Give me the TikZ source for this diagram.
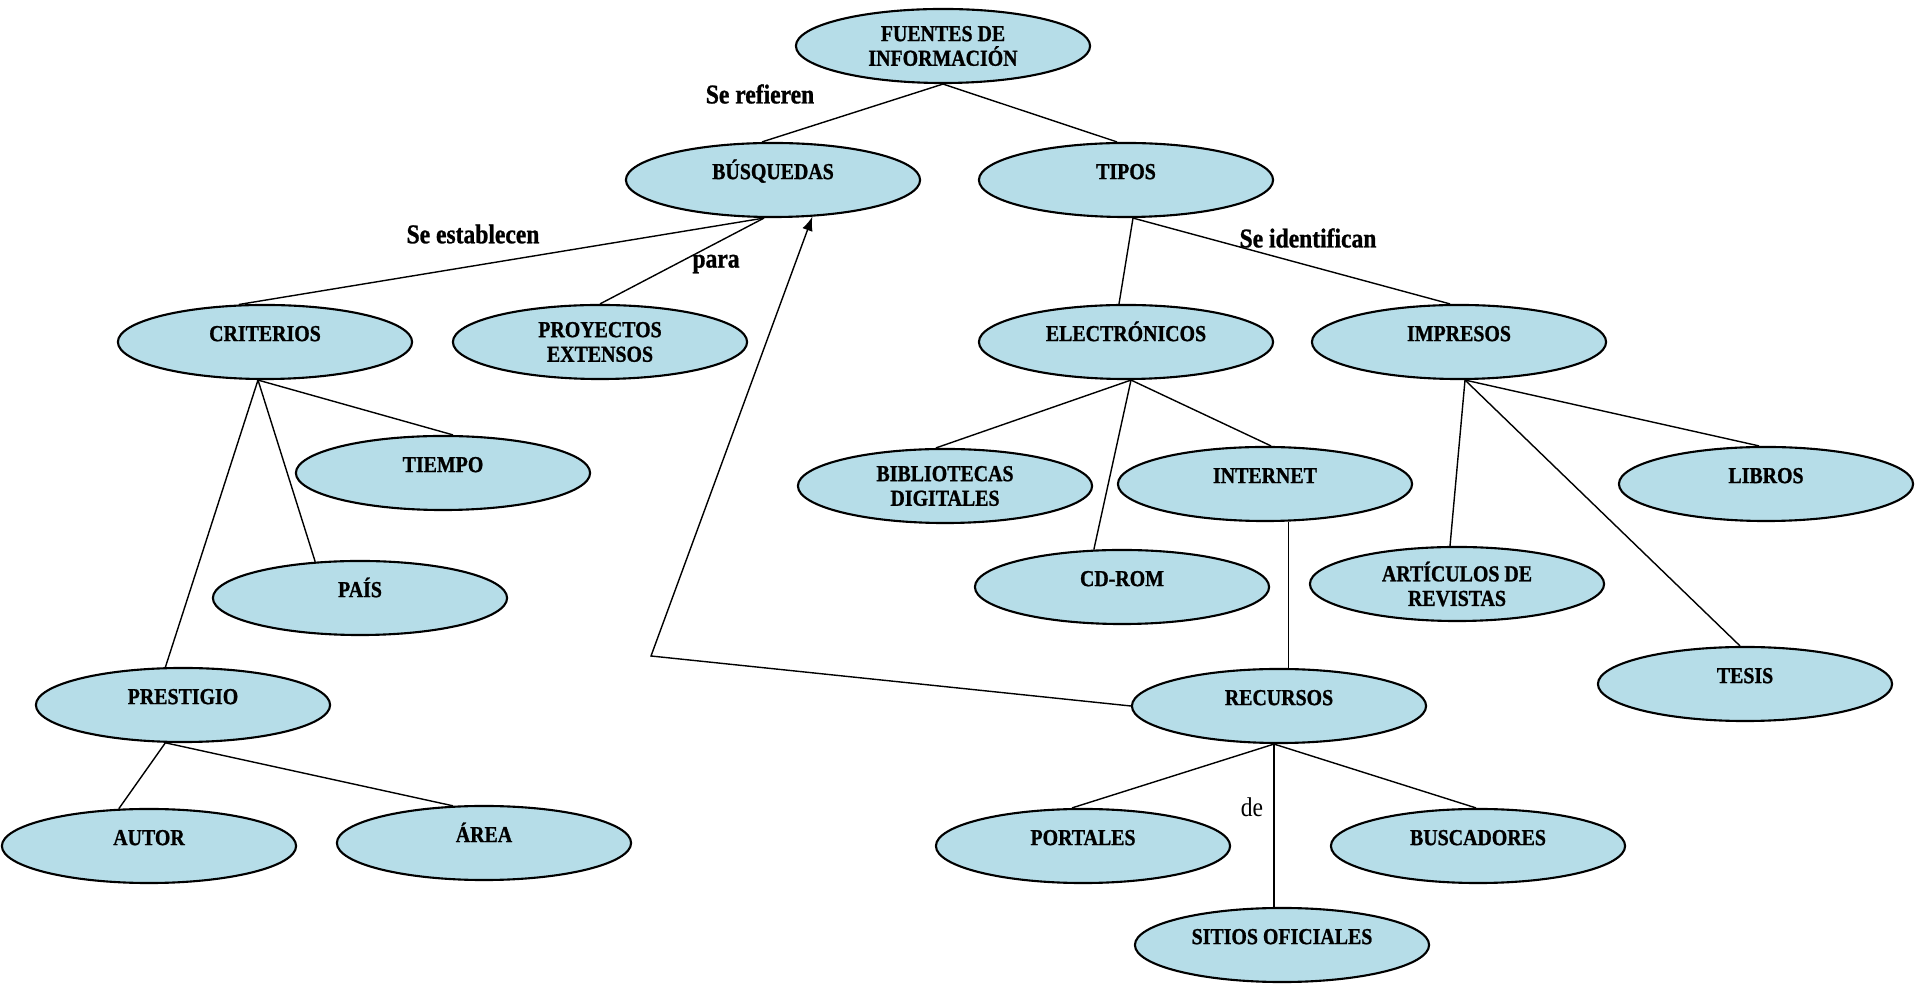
\documentclass[tikz,border=0pt]{standalone}
\usepackage{fontspec}
\setmainfont{Liberation Serif}[FakeStretch=0.87, BoldFeatures={FakeBold=1}]
\usetikzlibrary{shapes.geometric,arrows}
\definecolor{celeste}{RGB}{182,221,232}

\tikzset{
  concepto/.style={ellipse, draw, fill=celeste, line width=0.6pt,
                   minimum width=2.94cm, minimum height=0.74cm, inner sep=0pt,
                   font=\fontsize{6.5}{7}\selectfont\bfseries, align=center},
  una/.style={concepto, text height=4.5pt, text depth=5pt},
  enlace/.style={font=\fontsize{7.7}{8}\selectfont\bfseries, inner sep=0pt},
}

\begin{document}
\begin{tikzpicture}[x=0.01cm,y=-0.01cm]

\useasboundingbox (0,0) rectangle (1915,986);

% conceptos
\node[concepto] (fuentes) at (943,46) {FUENTES DE\\INFORMACIÓN};

\node[una] (busq) at (773,180) {BÚSQUEDAS};
\node[una] (tipos) at (1126,180) {TIPOS};

\node[una] (crit) at (265,342) {CRITERIOS};
\node[concepto] (proy) at (600,342) {PROYECTOS\\EXTENSOS};
\node[una] (elec) at (1126,342) {ELECTRÓNICOS};
\node[una] (impr) at (1459,342) {IMPRESOS};

\node[una] (tiempo) at (443,473) {TIEMPO};
\node[concepto] (bibl) at (945,486) {BIBLIOTECAS\\DIGITALES};
\node[una] (internet) at (1265,484) {INTERNET};
\node[una] (libros) at (1766,484) {LIBROS};

\node[una] (pais) at (360,598) {PAÍS};
\node[una] (cdrom) at (1122,587) {CD-ROM};
\node[concepto] (artic) at (1457,584) {ARTÍCULOS DE\\REVISTAS};
\node[una] (tesis) at (1745,684) {TESIS};

\node[una] (prest) at (183,705) {PRESTIGIO};
\node[una] (recursos) at (1279,706) {RECURSOS};

\node[una] (autor) at (149,846) {AUTOR};
\node[una] (area) at (484,843) {ÁREA};
\node[una] (portales) at (1083,846) {PORTALES};
\node[una] (buscad) at (1478,846) {BUSCADORES};
\node[una] (sitios) at (1282,945) {SITIOS OFICIALES};

% palabras de enlace
\node[enlace] (serefieren) at (760,94) {Se refieren};
\node[enlace] (seestablecen) at (473,234) {Se establecen};
\node[enlace] (para) at (716,264) {para};
\node[enlace] (seidentifican) at (1308,238) {Se identifican};
\node[enlace, font=\fontsize{7.7}{8}\selectfont] (de) at (1252,807) {de};

\coordinate (esquina) at (651,656);
\coordinate (rsur) at ([xshift=-0.05cm]recursos.south);

% conectores
\draw (fuentes.south) -- ([xshift=-0.11cm]busq.north);
\draw (fuentes.south) -- ([xshift=-0.09cm]tipos.north);

\draw ([xshift=-0.09cm]busq.south) -- (crit.125);
\draw ([xshift=-0.09cm]busq.south) -- (proy.north);
\draw[-latex] (recursos.west) -- (esquina) -- (busq.-43);

\draw ([xshift=0.07cm]tipos.south) -- ([xshift=-0.07cm]elec.north);
\draw ([xshift=0.07cm]tipos.south) -- ([xshift=-0.09cm]impr.north);

\draw ([xshift=0.05cm]elec.south) -- ([xshift=-0.09cm]bibl.north);
\draw ([xshift=0.05cm]elec.south) -- (cdrom.127);
\draw ([xshift=0.05cm]elec.south) -- ([xshift=0.06cm]internet.north);
\draw (internet.-58) -- (internet.-58 |- recursos.north);

\draw ([xshift=0.06cm]impr.south) -- ([xshift=-0.07cm]libros.north);
\draw ([xshift=0.06cm]impr.south) -- ([xshift=-0.07cm]artic.north);
\draw ([xshift=0.06cm]impr.south) -- ([xshift=-0.05cm]tesis.north);

\draw ([xshift=-0.07cm]crit.south) -- ([xshift=0.1cm]tiempo.north);
\draw ([xshift=-0.07cm]crit.south) -- (pais.141);
\draw ([xshift=-0.07cm]crit.south) -- (prest.115);

\draw (prest.-115) -- (autor.129);
\draw (prest.-115) -- (area.130);

\draw (rsur) -- ([xshift=-0.11cm]portales.north);
\draw (rsur) -- (rsur |- sitios.north);
\draw (rsur) -- ([xshift=-0.02cm]buscad.north);

\end{tikzpicture}
\end{document}
